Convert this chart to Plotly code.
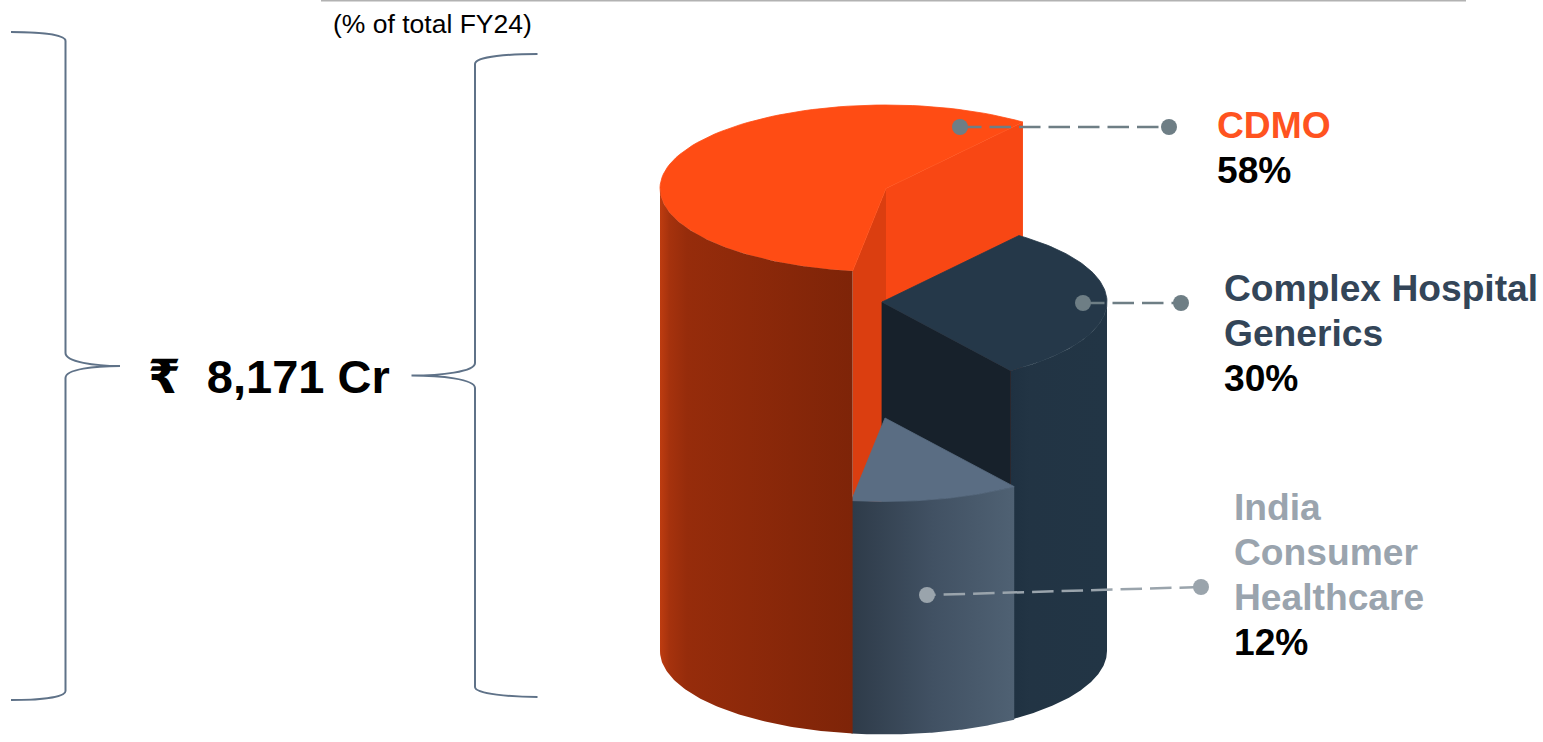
import numpy as np
import plotly.graph_objects as go

# Revenue mix, FY24
segments = ["CDMO", "India Consumer Healthcare", "Complex Hospital Generics"]
shares = [58, 12, 30]
total_label = "₹\u00a0\u00a08,171 Cr"
unit_label = "(% of total FY24)"

# Label lines, one list per callout
cdmo_lines = ["CDMO"]
hospital_lines = ["Complex Hospital", "Generics"]
consumer_lines = ["India", "Consumer", "Healthcare"]

# Cylinder projection (axis units equal page pixels)
WIDTH, HEIGHT = 1543, 742
RY = 83.5
BASE_Y = 651
START_DEG = 52.7
radius_x = {"CDMO": 226, "India Consumer Healthcare": 227, "Complex Hospital Generics": 223.5}
centre_x = {"CDMO": 886, "India Consumer Healthcare": 885, "Complex Hospital Generics": 883.5}
apex_x = {"CDMO": 886, "India Consumer Healthcare": 885, "Complex Hospital Generics": 882}
top_y = {"CDMO": 188.5, "India Consumer Healthcare": 418, "Complex Hospital Generics": 302}

# Slice spans follow from the shares, walking counter-clockwise on the ellipse
edges = START_DEG + np.cumsum([0] + [s * 3.6 for s in shares])
span = {name: (edges[i], edges[i + 1]) for i, name in enumerate(segments)}


def rim(name, cy, a, b, n=90):
    t = np.radians(np.linspace(a, b, n))
    return centre_x[name] + radius_x[name] * np.cos(t), cy - RY * np.sin(t)


fig = go.Figure()


def face(xs, ys, color=None, gradient=None, edge=0):
    kw = dict(fillgradient=dict(type="horizontal", colorscale=gradient)) if gradient else dict(fillcolor=color)
    line = dict(width=edge, color=color) if edge else dict(width=0)
    fig.add_trace(go.Scatter(x=list(xs), y=list(ys), mode="lines", fill="toself", line=line,
                             hoverinfo="skip", showlegend=False, **kw))


def top_face(name, color):
    ax, cy = apex_x[name], top_y[name]
    a, b = span[name]
    x, y = rim(name, cy, a, b)
    face([ax, *x, ax], [cy, *y, cy], color, edge=0.8)


def cut_face(name, deg, color, edge=0):
    ax, cy = apex_x[name], top_y[name]
    ex, ey = rim(name, cy, deg, deg, 1)
    drop = BASE_Y - cy
    face([ax, ex[0], ex[0], ax, ax], [cy, ey[0], ey[0] + drop, BASE_Y, cy], color, edge=edge)


def wall(name, a, b, gradient):
    cy = top_y[name]
    x1, y1 = rim(name, cy, a, b)
    x2, y2 = rim(name, BASE_Y, b, a)
    face([*x1, *x2, x1[0]], [*y1, *y2, y1[0]], gradient=gradient)


cdmo, consumer, hospital = segments
a_c, b_c = span[cdmo]
a_i, b_i = span[consumer]
a_h, b_h = span[hospital]

# Back to front: exposed cuts and the top of the tall slice first
cut_face(cdmo, a_c, "#F84714")
cut_face(cdmo, b_c, "#DB3E10")
top_face(cdmo, "#FF4C14")

cut_face(hospital, a_h, "#17212B", edge=0.8)
wall(hospital, a_h, 360, [[0, "#1F3141"], [0.2, "#223444"], [1, "#223545"]])
top_face(hospital, "#253849")

wall(consumer, a_i, b_i, [[0, "#2E3B49"], [0.5, "#415163"], [1, "#4F6173"]])
top_face(consumer, "#5A6D83")

wall(cdmo, 180, b_c, [[0, "#BE3C10"], [0.05, "#A5320D"], [0.14, "#962C0B"], [1, "#7E2408"]])

# Leader lines from each slice to its label
leaders = [
    ([960, 1169], [127, 127], "#6E7E85"),
    ([1083, 1181], [303, 303], "#6E7E85"),
    ([1201, 927], [587, 595], "#9AA4AC"),
]
for lx, ly, c in leaders:
    fig.add_trace(go.Scatter(x=lx, y=ly, mode="lines+markers", hoverinfo="skip", showlegend=False,
                             line=dict(color=c, width=2.5, dash="21.5px,8px"),
                             marker=dict(color=c, size=16, line=dict(width=0))))

FONT = "Liberation Sans, Arial, DejaVu Sans"


def label(x, y, text, size, color="#000000", bold=True):
    fig.add_annotation(x=x, y=y, xref="x", yref="y", text=f"<b>{text}</b>" if bold else text,
                       showarrow=False, xanchor="left", yanchor="middle", align="left",
                       borderpad=0, font=dict(family=FONT, size=size, color=color))


def label_block(x, first_y, lines, color, value, step=45, size=37.2):
    for i, line in enumerate(lines):
        label(x, first_y + i * step, line, size, color)
    label(x, first_y + len(lines) * step, f"{value}%", size)


label_block(1215.5, 124.5, cdmo_lines, "#FF5320", shares[0], step=45)
label_block(1222.5, 287.5, hospital_lines, "#334558", shares[2], step=45)
label_block(1232.5, 507, consumer_lines, "#9AA4AE", shares[1], step=45)
label(147, 376.5, total_label, 47)
label(332, 24, unit_label, 26.5, bold=False)

# Curly braces around the total
BRACE = dict(type="path", xref="x", yref="y", line=dict(color="#5F7288", width=2))
fig.add_shape(path="M11,32 C35,32 65.5,34 65.5,41 L65.5,353 C65.5,362 95,366 120,366 "
                   "C95,366 65.5,369 65.5,378 L65.5,691 C65.5,698 35,700 11,700", **BRACE)
fig.add_shape(path="M537.5,54 C512,54 475,56 475,64 L475,363 C475,372 440,375.5 411.5,375.5 "
                   "C440,375.5 475,379 475,388 L475,687 C475,694 512,697 537.5,697", **BRACE)
# Rule across the top of the panel
fig.add_shape(type="line", xref="x", yref="y", x0=321, x1=1466, y0=0.5, y1=0.5,
              line=dict(color="#B2B2B2", width=2))

fig.update_layout(
    width=WIDTH, height=HEIGHT, margin=dict(l=0, r=0, t=0, b=0),
    paper_bgcolor="#FFFFFF", plot_bgcolor="#FFFFFF", showlegend=False,
    xaxis=dict(range=[0, WIDTH], visible=False, fixedrange=True),
    yaxis=dict(range=[HEIGHT, 0], visible=False, fixedrange=True),
)
fig.write_html("out.html", config=dict(displayModeBar=False))
